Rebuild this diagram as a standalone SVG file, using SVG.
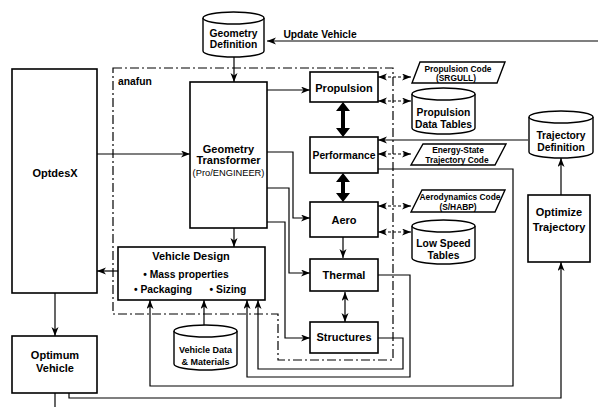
<svg xmlns="http://www.w3.org/2000/svg" width="598" height="407" viewBox="0 0 598 407">
<defs>
<marker id="ah" markerUnits="userSpaceOnUse" markerWidth="10" markerHeight="8" refX="9" refY="3.5" orient="auto-start-reverse">
<path d="M0,0 L9,3.5 L0,7 L2.5,3.5 z" fill="#000"/>
</marker>
<style>
.bx{fill:#fff;stroke:#000;stroke-width:1.6}
.cy{fill:#fff;stroke:#000;stroke-width:1.4}
.ln{fill:none;stroke:#000;stroke-width:1.2}
.ds{fill:none;stroke:#000;stroke-width:1.2;stroke-dasharray:3,2}
.an{fill:none;stroke:#000;stroke-width:1.2;stroke-dasharray:9,3,2,3}
text{font-family:"Liberation Sans",Arial,sans-serif;font-weight:bold;fill:#000;text-anchor:middle}
.t11{font-size:11px}
.t10{font-size:10.3px}
.t9{font-size:9px}
.t8{font-size:8.4px}
</style>
</defs>
<rect width="598" height="407" fill="#fff"/>

<g id="connectors">
<path class="an" d="M113,68 H393 V360 H278 V314 H113 Z"/>
<text class="t10" x="118" y="85" style="text-anchor:start">anafun</text>
<path class="ln" d="M598,41 H267" marker-end="url(#ah)"/>
<text class="t10" x="320" y="38">Update Vehicle</text>
<path class="ln" d="M234,57 V82" marker-end="url(#ah)"/>
<path class="ln" d="M97,154 H190" marker-end="url(#ah)"/>
<path class="ln" d="M267,90 H310" marker-end="url(#ah)"/>
<path class="ln" d="M267,152 H293 V218 H310" marker-end="url(#ah)"/>
<path class="ln" d="M267,188 H289 V273 H310" marker-end="url(#ah)"/>
<path class="ln" d="M267,222 H285 V338 H310" marker-end="url(#ah)"/>
<path class="ln" d="M234,228 V247" marker-end="url(#ah)"/>
<path class="ln" d="M118,271 H97" marker-end="url(#ah)"/>
<path class="ln" d="M55,293 V336" marker-end="url(#ah)"/>
<path class="ln" d="M55,393 V407"/>
<path class="ln" d="M69,393 V398 H561 V262" marker-end="url(#ah)"/>
<path class="ln" d="M561,195 V158" marker-end="url(#ah)"/>
<path class="ln" d="M528,140 H378" marker-end="url(#ah)"/>
<path class="ln" d="M377,169 H513 V386 H150 V300" marker-end="url(#ah)"/>
<path class="ln" d="M378,275 H410 V377 H247 V300" marker-end="url(#ah)"/>
<path class="ln" d="M378,338 H403 V369 H258 V300" marker-end="url(#ah)"/>
<path class="ln" d="M204,325 V300" marker-end="url(#ah)"/>
<path class="ln" d="M343,237 V258" marker-end="url(#ah)"/>
<path class="ln" d="M345,292 V322" marker-start="url(#ah)" marker-end="url(#ah)"/>
<path class="ds" d="M378,77 H411" marker-start="url(#ah)" marker-end="url(#ah)"/>
<path class="ds" d="M378,101 H411" marker-start="url(#ah)" marker-end="url(#ah)"/>
<path class="ds" d="M378,154 H411" marker-start="url(#ah)" marker-end="url(#ah)"/>
<path class="ds" d="M378,206 H411" marker-start="url(#ah)" marker-end="url(#ah)"/>
<path class="ds" d="M378,232 H411" marker-start="url(#ah)" marker-end="url(#ah)"/>
<path d="M343,102 L350,111 L345,111 L345,128 L350,128 L343,137 L336,128 L341,128 L341,111 L336,111 Z" fill="#000"/>
<path d="M343,173 L350,182 L345,182 L345,193 L350,193 L343,202 L336,193 L341,193 L341,182 L336,182 Z" fill="#000"/>
</g>

<g id="geometry-definition">
<path class="cy" d="M203,18 A30.5,6 0 0 1 264,18 V51 A30.5,6 0 0 1 203,51 Z"/>
<path class="cy" d="M203,18 A30.5,6 0 0 0 264,18" fill="none"/>
<text class="t10" x="233.5" y="37">Geometry</text>
<text class="t10" x="233.5" y="48">Definition</text>
</g>

<g id="optdesx">
<rect class="bx" x="12" y="69" width="85" height="224"/>
<text class="t11" x="55" y="177">OptdesX</text>
</g>

<g id="optimum-vehicle">
<rect class="bx" x="12" y="336" width="85" height="57"/>
<text class="t11" x="55" y="359">Optimum</text>
<text class="t11" x="55" y="372">Vehicle</text>
</g>

<g id="geometry-transformer">
<rect class="bx" x="190" y="82" width="77" height="146"/>
<text class="t11" x="228.5" y="153">Geometry</text>
<text class="t11" x="228.5" y="164">Transformer</text>
<text x="228.5" y="176" style="font-size:9.3px;font-weight:normal">(Pro/ENGINEER)</text>
</g>

<g id="vehicle-design">
<rect class="bx" x="118" y="247" width="147" height="53"/>
<text class="t11" x="191" y="260">Vehicle Design</text>
<text class="t10" x="186" y="278">• Mass properties</text>
<text class="t10" x="163" y="293">• Packaging</text>
<text class="t10" x="228" y="293">• Sizing</text>
</g>

<g id="propulsion">
<rect class="bx" x="310" y="72" width="68" height="30"/>
<text class="t11" x="344" y="92">Propulsion</text>
</g>

<g id="performance">
<rect class="bx" x="310" y="137" width="68" height="36"/>
<text class="t10" x="344" y="159">Performance</text>
</g>

<g id="aero">
<rect class="bx" x="310" y="202" width="68" height="35"/>
<text class="t11" x="344" y="224">Aero</text>
</g>

<g id="thermal">
<rect class="bx" x="310" y="259" width="68" height="32"/>
<text class="t11" x="344" y="279">Thermal</text>
</g>

<g id="structures">
<rect class="bx" x="310" y="322" width="68" height="31"/>
<text class="t11" x="344" y="341">Structures</text>
</g>

<g id="propulsion-code">
<path class="cy" d="M420,62 H505 L497,83 H412 Z"/>
<text class="t8" x="458" y="72">Propulsion Code</text>
<text class="t8" x="456" y="81">(SRGULL)</text>
</g>

<g id="propulsion-data-tables">
<path class="cy" d="M412,94 A31.5,6 0 0 1 475,94 V128 A31.5,6 0 0 1 412,128 Z"/>
<path class="cy" d="M412,94 A31.5,6 0 0 0 475,94" fill="none"/>
<text class="t10" x="443.5" y="116">Propulsion</text>
<text class="t10" x="443.5" y="128">Data Tables</text>
</g>

<g id="energy-state-code">
<path class="cy" d="M423,144 H506 L495,165 H411 Z"/>
<text class="t8" x="458" y="153">Energy-State</text>
<text class="t8" x="457" y="163">Trajectory Code</text>
</g>

<g id="aerodynamics-code">
<path class="cy" d="M422,190 H505 L495,212 H411 Z"/>
<text class="t8" x="460" y="200">Aerodynamics Code</text>
<text class="t8" x="458" y="210">(S/HABP)</text>
</g>

<g id="low-speed-tables">
<path class="cy" d="M412,226 A31.5,6 0 0 1 475,226 V258 A31.5,6 0 0 1 412,258 Z"/>
<path class="cy" d="M412,226 A31.5,6 0 0 0 475,226" fill="none"/>
<text class="t10" x="443.5" y="247">Low Speed</text>
<text class="t10" x="443.5" y="259">Tables</text>
</g>

<g id="trajectory-definition">
<path class="cy" d="M529,117 A32,6 0 0 1 593,117 V152 A32,6 0 0 1 529,152 Z"/>
<path class="cy" d="M529,117 A32,6 0 0 0 593,117" fill="none"/>
<text class="t10" x="561" y="139">Trajectory</text>
<text class="t10" x="561" y="151">Definition</text>
</g>

<g id="optimize-trajectory">
<rect class="bx" x="528" y="195" width="62" height="67"/>
<text class="t11" x="559" y="216">Optimize</text>
<text class="t11" x="559" y="231">Trajectory</text>
</g>

<g id="vehicle-data-materials">
<path class="cy" d="M174,331 A31.5,6 0 0 1 237,331 V364 A31.5,6 0 0 1 174,364 Z"/>
<path class="cy" d="M174,331 A31.5,6 0 0 0 237,331" fill="none"/>
<text class="t9" x="205.5" y="353">Vehicle Data</text>
<text class="t9" x="205.5" y="365">&amp; Materials</text>
</g>
</svg>
